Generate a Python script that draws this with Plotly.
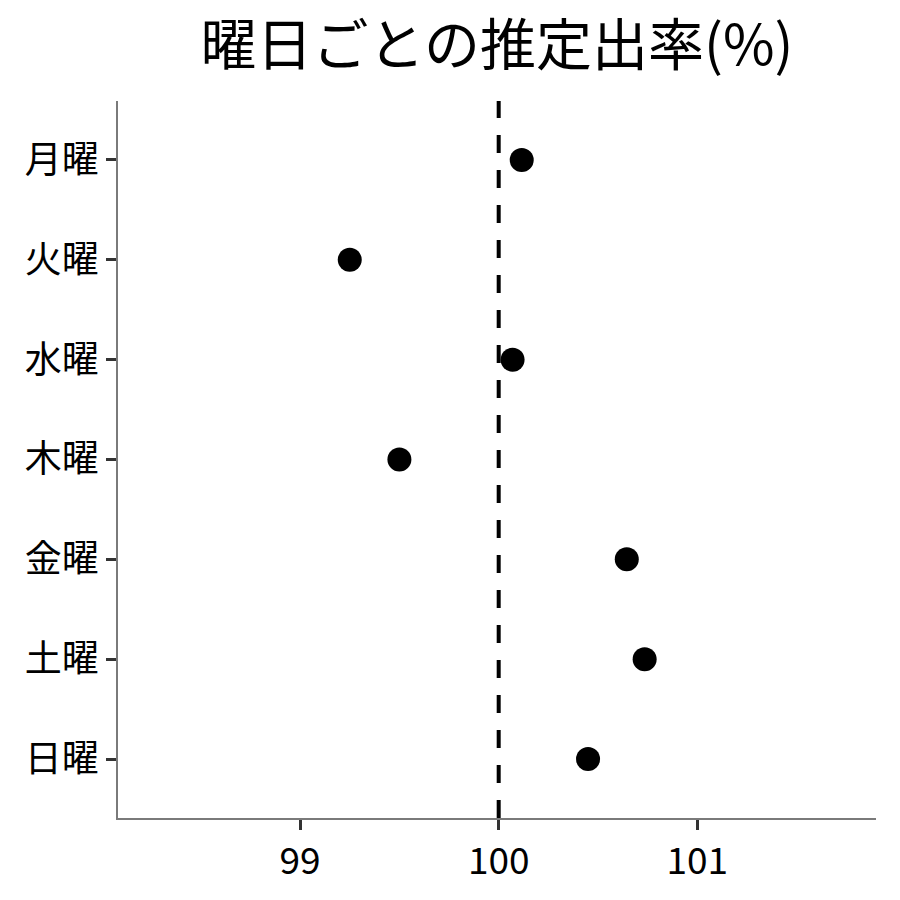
import plotly.graph_objects as go

days = ["月曜", "火曜", "水曜", "木曜", "金曜", "土曜", "日曜"]
rates = [100.116, 99.25, 100.07, 99.50, 100.645, 100.735, 100.45]
x_ticks = [99, 100, 101]
reference_value = 100

font = "Noto Sans CJK JP"

fig = go.Figure()
fig.add_trace(go.Scatter(
    x=rates, y=days, mode="markers",
    marker=dict(color="black", size=24),
    showlegend=False, cliponaxis=False,
))
fig.add_vline(x=reference_value, line=dict(color="black", width=4, dash="18px,17px"))

fig.update_layout(
    width=900, height=900,
    paper_bgcolor="white", plot_bgcolor="white",
    margin=dict(l=110, r=32, t=93, b=90),
    title=dict(text="曜日ごとの推定出率(%)", x=0.5, xref="paper", xanchor="center",
               y=0.959, yref="container", yanchor="middle",
               font=dict(family=font, size=56, color="black")),
    font=dict(family=font),
)
fig.update_xaxes(
    range=[98.083, 101.9], tickvals=x_ticks, ticktext=[str(v) for v in x_ticks],
    showgrid=False, zeroline=False, showline=True, linecolor="#7a7a7a", linewidth=1.5,
    ticks="outside", ticklen=10, tickwidth=3, tickcolor="#333333",
    tickfont=dict(family=font, size=37, color="black"),
)
fig.update_yaxes(
    categoryorder="array", categoryarray=days[::-1], range=[-0.59, 6.59],
    showgrid=False, zeroline=False, showline=True, linecolor="#7a7a7a", linewidth=1.5,
    ticks="outside", ticklen=10, tickwidth=3, tickcolor="#333333",
    tickfont=dict(family=font, size=37, color="black"),
)
fig.write_html("out.html")
